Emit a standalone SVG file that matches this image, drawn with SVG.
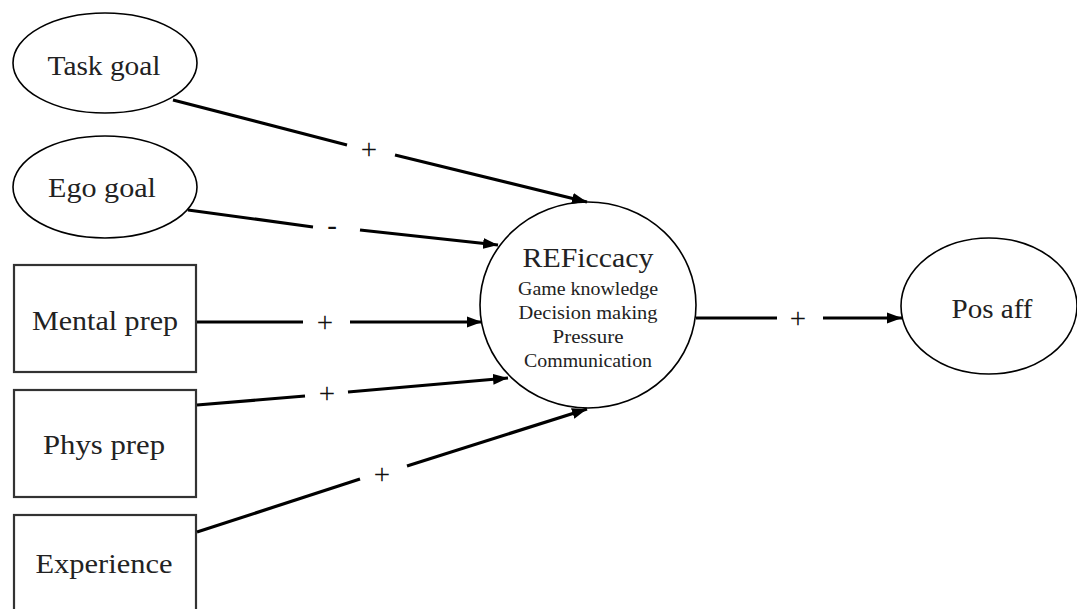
<svg xmlns="http://www.w3.org/2000/svg" width="1077" height="609" viewBox="0 0 1077 609" font-family="'Liberation Serif', 'Times New Roman', serif">
<defs>
<marker id="arr" markerUnits="userSpaceOnUse" markerWidth="16" markerHeight="12" refX="15" refY="6" orient="auto">
<path d="M0,0.5 L15,6 L0,11.5 Z" fill="#000"/>
</marker>
<style>
.node{fill:#fff;stroke:#000;stroke-width:1.6}
.box{fill:#fff;stroke:#333;stroke-width:2.2}
text{font-family:'Liberation Serif','Times New Roman',serif}
.lbl{font-size:28px;fill:#222;text-anchor:middle}
.sub{font-size:19px;fill:#222;text-anchor:middle}
.sign{font-size:29px;fill:#111;text-anchor:middle}
.ln{stroke:#000;stroke-width:3.2;fill:none}
</style>
</defs>
<rect width="1077" height="609" fill="#fff"/>
<g id="task-goal"><ellipse class="node" cx="105" cy="63" rx="92" ry="50"/><text class="lbl" x="104" y="75" textLength="113" lengthAdjust="spacingAndGlyphs">Task goal</text></g>
<g id="ego-goal"><ellipse class="node" cx="105" cy="187" rx="92" ry="51"/><text class="lbl" x="102" y="197" textLength="108" lengthAdjust="spacingAndGlyphs">Ego goal</text></g>
<g id="mental-prep"><rect class="box" x="14" y="265" width="182" height="107"/><text class="lbl" x="105" y="330" textLength="146" lengthAdjust="spacingAndGlyphs">Mental prep</text></g>
<g id="phys-prep"><rect class="box" x="14" y="390" width="182" height="107"/><text class="lbl" x="104" y="454" textLength="122" lengthAdjust="spacingAndGlyphs">Phys prep</text></g>
<g id="experience"><rect class="box" x="14" y="515" width="182" height="100"/><text class="lbl" x="104" y="573" textLength="137" lengthAdjust="spacingAndGlyphs">Experience</text></g>
<g id="reficcacy"><ellipse class="node" cx="588" cy="305" rx="108" ry="103"/>
<text class="lbl" x="588" y="267" textLength="131" lengthAdjust="spacingAndGlyphs">REFiccacy</text>
<text class="sub" x="588" y="295" textLength="140" lengthAdjust="spacingAndGlyphs">Game knowledge</text>
<text class="sub" x="588" y="319" textLength="139" lengthAdjust="spacingAndGlyphs">Decision  making</text>
<text class="sub" x="588" y="343" textLength="71" lengthAdjust="spacingAndGlyphs">Pressure</text>
<text class="sub" x="588" y="367" textLength="128" lengthAdjust="spacingAndGlyphs">Communication</text>
</g>
<g id="pos-aff"><ellipse class="node" cx="989" cy="306" rx="88" ry="68"/><text class="lbl" x="992" y="318" textLength="81" lengthAdjust="spacingAndGlyphs">Pos aff</text></g>
<g id="connectors">
<line class="ln" x1="173" y1="100" x2="347" y2="145"/><line class="ln" x1="395" y1="155" x2="587" y2="202" marker-end="url(#arr)"/>
<line class="ln" x1="188" y1="210" x2="313" y2="227"/><line class="ln" x1="360" y1="230" x2="498" y2="245" marker-end="url(#arr)"/>
<line class="ln" x1="197" y1="322" x2="303" y2="322"/><line class="ln" x1="350" y1="322" x2="482" y2="322" marker-end="url(#arr)"/>
<line class="ln" x1="197" y1="405" x2="305" y2="396"/><line class="ln" x1="348" y1="392" x2="508" y2="378" marker-end="url(#arr)"/>
<line class="ln" x1="197" y1="532" x2="360" y2="479"/><line class="ln" x1="407" y1="466" x2="587" y2="409" marker-end="url(#arr)"/>
<line class="ln" x1="696" y1="318" x2="777" y2="318"/><line class="ln" x1="823" y1="318" x2="902" y2="318" marker-end="url(#arr)"/>
<text class="sign" x="369" y="159">+</text>
<text class="sign" x="332" y="235">-</text>
<text class="sign" x="325" y="332">+</text>
<text class="sign" x="327" y="403">+</text>
<text class="sign" x="382" y="484">+</text>
<text class="sign" x="798" y="328">+</text>
</g>
</svg>
